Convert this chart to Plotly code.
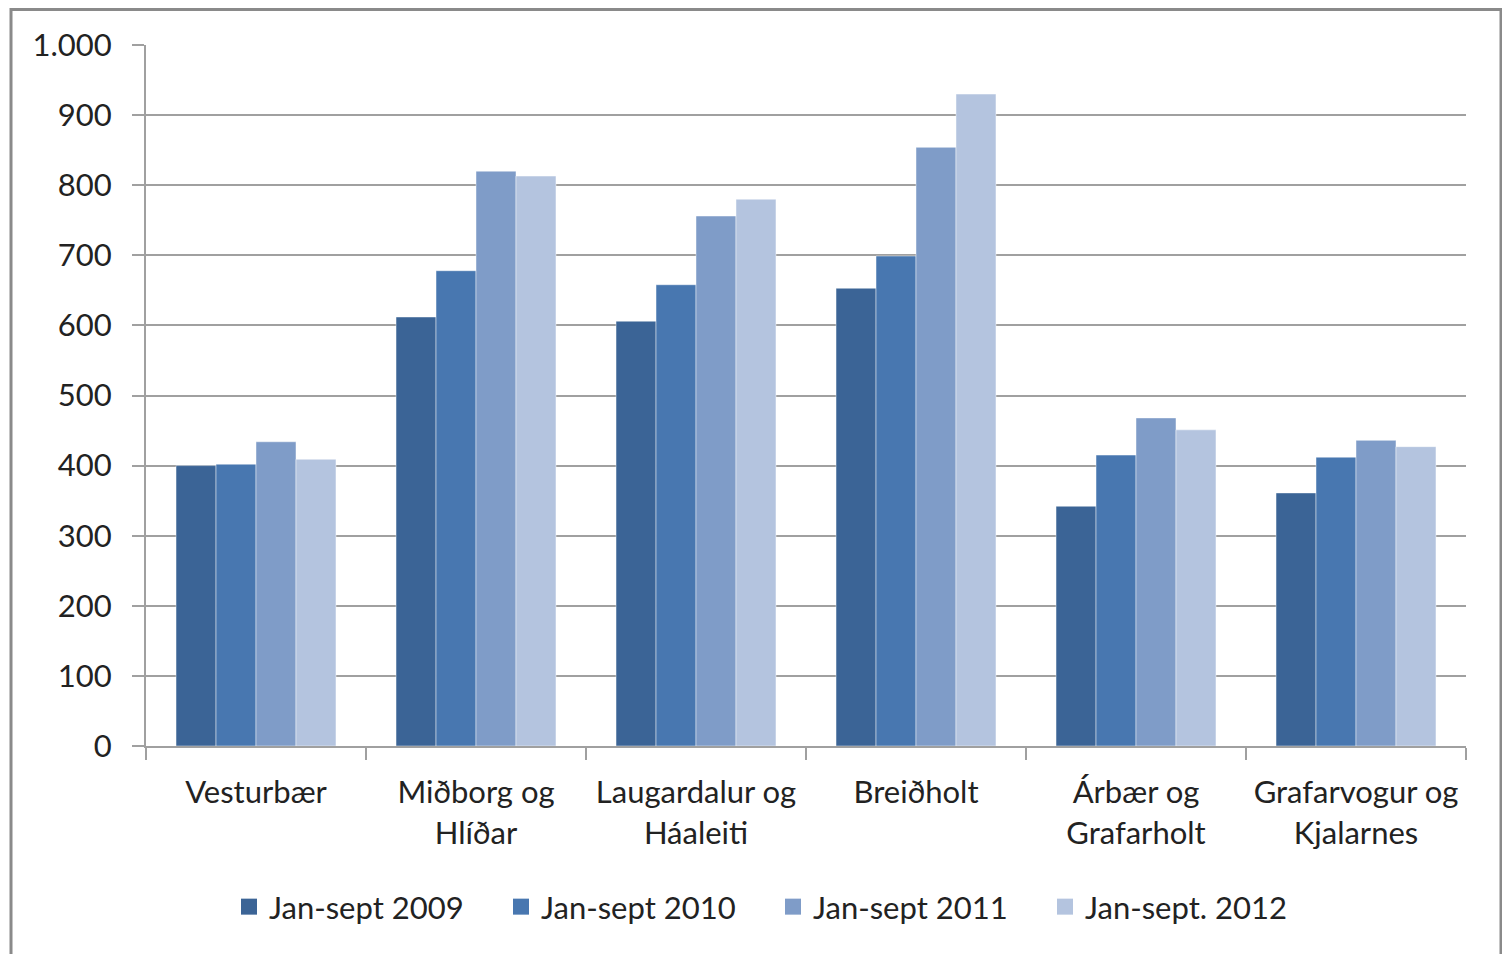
import plotly.graph_objects as go

categories = ["Vesturbær", "Miðborg og<br>Hlíðar", "Laugardalur og<br>Háaleiti", "Breiðholt",
              "Árbær og<br>Grafarholt", "Grafarvogur og<br>Kjalarnes"]
series_names = ["Jan-sept 2009", "Jan-sept 2010", "Jan-sept 2011", "Jan-sept. 2012"]
v2009 = [400, 612, 606, 653, 342, 361]
v2010 = [402, 678, 658, 699, 415, 412]
v2011 = [434, 820, 756, 854, 468, 436]
v2012 = [409, 813, 780, 930, 451, 427]
colors = ["#3B6496", "#4877B0", "#7F9CC8", "#B4C4DF"]
y_ticks = [0, 100, 200, 300, 400, 500, 600, 700, 800, 900, 1000]

FONT = "Lato, 'Open Sans', sans-serif"
FS = 31
TXT = "#222222"

fig = go.Figure()
for name, vals, c in zip(series_names, [v2009, v2010, v2011, v2012], colors):
    fig.add_trace(go.Bar(x=categories, y=vals, name=name, marker_color=c, showlegend=False,
                         marker_line=dict(color="rgba(255,255,255,0.45)", width=1)))
# legend-only entries with larger square symbols
for name, c in zip(series_names, colors):
    fig.add_trace(go.Scatter(x=[None], y=[None], mode="markers", name=name,
                             marker=dict(symbol="square", size=18, color=c)))

OFF = 8  # page body margin
W, H = 1510 - OFF, 954 - OFF
L, R, T, B = 146 - OFF, 44, 45 - OFF, 208
pw, ph = W - L - R, H - T - B

def px_x(x):
    return (x - OFF - L) / pw

def px_y(y):
    return (T + ph - (y - OFF)) / ph

fig.update_layout(
    width=W, height=H,
    margin=dict(l=L, r=R, t=T, b=B, pad=0),
    barmode="group", bargap=0.273, bargroupgap=0,
    plot_bgcolor="white", paper_bgcolor="white",
    separators=",.",
    font=dict(family=FONT, size=FS, color=TXT),
    showlegend=True,
    legend=dict(orientation="h", x=px_x(229), y=px_y(907), xanchor="left", yanchor="middle",
                font=dict(family=FONT, size=FS, color=TXT), traceorder="normal",
                entrywidth=227, entrywidthmode="pixels", itemsizing="trace"),
    xaxis=dict(type="category", tickson="boundaries", ticks="outside", ticklen=12,
               tickcolor="#A0A0A0", tickwidth=2, showline=True, linecolor="#A0A0A0",
               linewidth=2, showgrid=False, ticklabelstandoff=18,
               tickfont=dict(family=FONT, size=FS, color=TXT)),
    yaxis=dict(range=[0, 1000], tickvals=y_ticks, tickformat=",d", ticks="outside", ticklen=12,
               tickcolor="#A0A0A0", tickwidth=2, showline=True, linecolor="#A0A0A0", linewidth=2,
               showgrid=True, gridcolor="#A0A0A0", gridwidth=2, zeroline=False,
               ticklabelstandoff=14,
               tickfont=dict(family=FONT, size=FS, color=TXT)),
    shapes=[dict(type="rect", xref="paper", yref="paper",
                 x0=px_x(11), x1=px_x(1501), y0=px_y(1000), y1=px_y(9.5),
                 line=dict(color="#8A8A8A", width=3), fillcolor="rgba(0,0,0,0)", layer="above")],
)

fig.write_html("out.html")
